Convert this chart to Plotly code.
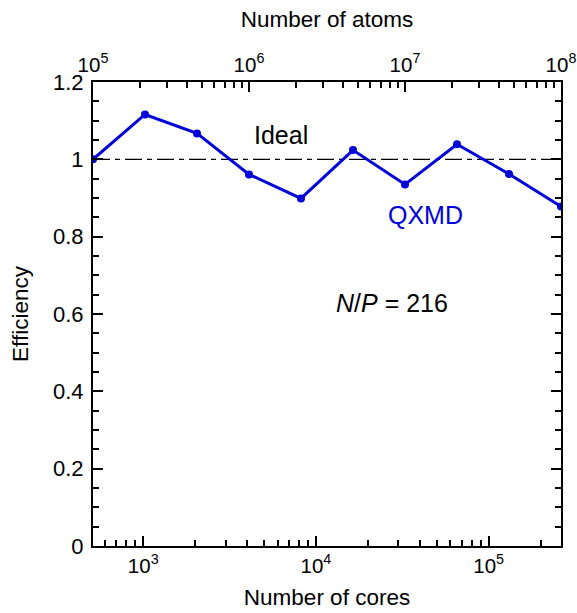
import plotly.graph_objects as go
import numpy as np

# Data
cores = [512, 1024, 2048, 4096, 8192, 16384, 32768, 65536, 131072, 262144]
efficiency = [1.000, 1.116, 1.067, 0.961, 0.899, 1.024, 0.935, 1.039, 0.962, 0.878]
ideal_x = [512, 262144]
ideal_y = [1.0, 1.0]

bottom_major = [1e3, 1e4, 1e5]
bottom_major_text = ["10<sup>3</sup>", "10<sup>4</sup>", "10<sup>5</sup>"]
top_major = [1e5, 1e6, 1e7, 1e8]
top_major_text = ["10<sup>5</sup>", "10<sup>6</sup>", "10<sup>7</sup>", "10<sup>8</sup>"]
y_major = [0, 0.2, 0.4, 0.6, 0.8, 1.0, 1.2]
y_major_text = ["0", "0.2", "0.4", "0.6", "0.8", "1", "1.2"]

def log_minors(lo, hi):
    out = []
    d = 10 ** int(np.floor(np.log10(lo)))
    while d < hi:
        for m in range(2, 10):
            v = m * d
            if lo < v < hi:
                out.append(v)
        d *= 10
    return out

bottom_minor = log_minors(512, 262144)
top_minor = log_minors(1e5, 1e8)
y_minor = [round(0.05 * i, 2) for i in range(0, 25)]

FONT = "Liberation Sans, Arial, Helvetica, sans-serif"
BLUE = "#0000D8"
XTICKF = 20.5
YTICKF = 22
TITLEF = 22.5
ANNF = 25

fig = go.Figure()
fig.add_trace(go.Scatter(x=ideal_x, y=ideal_y, mode="lines",
                         line=dict(color="black", width=1.3, dash="17px,5px,5px,5px"),
                         showlegend=False, hoverinfo="skip"))
fig.add_trace(go.Scatter(x=cores, y=efficiency, mode="lines+markers",
                         line=dict(color=BLUE, width=3),
                         marker=dict(color=BLUE, size=8),
                         showlegend=False))
# invisible trace for top axis
fig.add_trace(go.Scatter(x=[1e5, 1e8], y=[0, 0], xaxis="x2", yaxis="y",
                         mode="markers", marker=dict(opacity=0), showlegend=False,
                         hoverinfo="skip"))

fig.update_layout(
    width=577, height=613,
    margin=dict(l=93, r=16, t=82, b=67),
    plot_bgcolor="white", paper_bgcolor="white",
    font=dict(family=FONT, size=XTICKF, color="black"),
    xaxis=dict(
        type="log", range=[np.log10(512), np.log10(262144)],
        automargin=False,
        showgrid=False, zeroline=False,
        showline=True, linecolor="black", linewidth=2, mirror=False,
        ticks="inside", ticklen=10, tickwidth=1.5, tickcolor="black",
        tickmode="array", tickvals=bottom_major, ticktext=bottom_major_text,
        minor=dict(ticks="inside", ticklen=6, tickwidth=1.5, tickcolor="black",
                   tickmode="array", tickvals=bottom_minor, showgrid=False),
        tickfont=dict(size=XTICKF),
        title=dict(text="Number of cores", font=dict(size=TITLEF), standoff=14),
    ),
    xaxis2=dict(
        type="log", range=[5, 8], overlaying="x", side="top", anchor="y",
        automargin=False,
        showgrid=False, zeroline=False,
        showline=True, linecolor="black", linewidth=2,
        ticks="inside", ticklen=10, tickwidth=1.5, tickcolor="black",
        tickmode="array", tickvals=top_major, ticktext=top_major_text,
        minor=dict(ticks="inside", ticklen=6, tickwidth=1.5, tickcolor="black",
                   tickmode="array", tickvals=top_minor, showgrid=False),
        tickfont=dict(size=XTICKF),
        title=dict(text="Number of atoms", font=dict(size=TITLEF), standoff=16),
    ),
    yaxis=dict(
        range=[0, 1.2], automargin=False,
        showgrid=False, zeroline=False,
        showline=True, linecolor="black", linewidth=2, mirror="ticks",
        ticks="inside", ticklen=10, tickwidth=1.5, tickcolor="black",
        tickmode="array", tickvals=y_major, ticktext=y_major_text,
        minor=dict(ticks="inside", ticklen=6, tickwidth=1.5, tickcolor="black",
                   tickmode="array", tickvals=y_minor, showgrid=False),
        tickfont=dict(size=YTICKF),
        ticklabelstandoff=3,
        title=dict(text="Efficiency", font=dict(size=TITLEF), standoff=18),
    ),
    annotations=[
        dict(x=3.798, y=1.063, xref="x", yref="y", text="Ideal",
             showarrow=False, font=dict(size=ANNF, color="black")),
        dict(x=4.634, y=0.856, xref="x", yref="y", text="QXMD",
             showarrow=False, font=dict(size=ANNF, color=BLUE)),
        dict(x=4.440, y=0.628, xref="x", yref="y", text="<i>N</i>/<i>P</i> = 216",
             showarrow=False, font=dict(size=ANNF, color="black")),
    ],
)

fig.write_html("out.html")
